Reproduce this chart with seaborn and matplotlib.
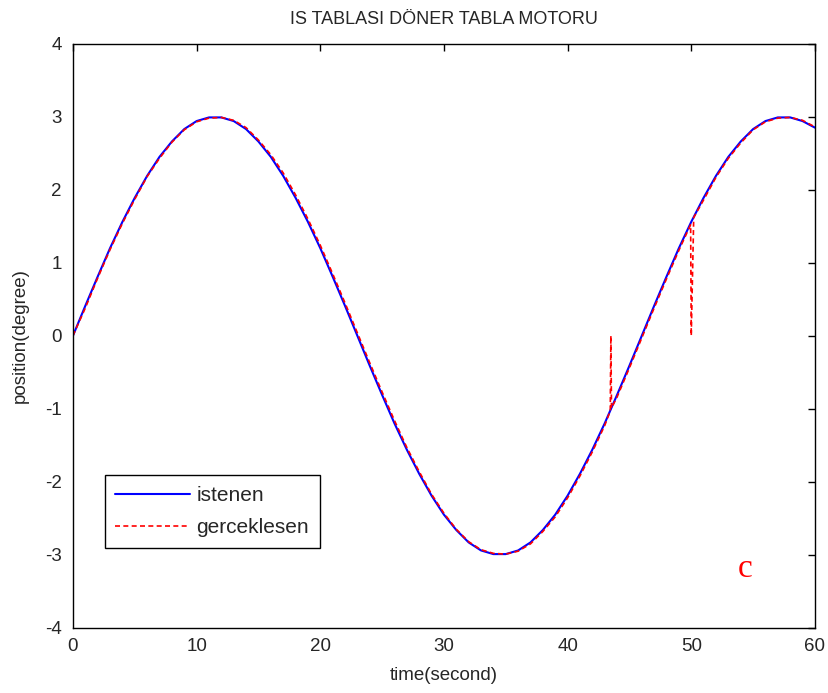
"""IS TABLASI DONER TABLA MOTORU - istenen vs gerceklesen position chart."""
import matplotlib
matplotlib.use("Agg")
import matplotlib.pyplot as plt
import seaborn as sns
import pandas as pd

# desired position (blue), every second
time_ref = list(range(0, 61))
pos_ref = [0.00, 0.41, 0.81, 1.20, 1.56, 1.89, 2.19, 2.45, 2.66, 2.83,
           2.94, 2.99, 2.99, 2.94, 2.83, 2.66, 2.45, 2.19, 1.89, 1.56,
           1.20, 0.81, 0.41, 0.00, -0.41, -0.81, -1.20, -1.56, -1.89, -2.19,
           -2.45, -2.66, -2.83, -2.94, -2.99, -2.99, -2.94, -2.83, -2.66, -2.45,
           -2.19, -1.89, -1.56, -1.20, -0.81, -0.41, 0.00, 0.41, 0.81, 1.20,
           1.56, 1.89, 2.19, 2.45, 2.66, 2.83, 2.94, 2.99, 2.99, 2.94, 2.85]

# measured position (red dashed), with the two glitches near 43.5 s and 50 s
time_act = [0, 1, 2, 3, 4, 5, 6, 7, 8, 9, 10, 11, 12, 13, 14, 15, 16, 17, 18, 19,
            20, 21, 22, 23, 24, 25, 26, 27, 28, 29, 30, 31, 32, 33, 34, 35, 36, 37,
            38, 39, 40, 41, 42, 43, 43.45, 43.5, 43.55, 44, 45, 46, 47, 48, 49,
            49.95, 50.0, 50.2, 51, 52, 53, 54, 55, 56, 57, 58, 59, 60]
pos_act = [0.00, 0.38, 0.79, 1.18, 1.54, 1.87, 2.18, 2.43, 2.65, 2.82,
           2.93, 2.98, 2.99, 2.95, 2.85, 2.68, 2.48, 2.23, 1.93, 1.60,
           1.24, 0.85, 0.45, 0.04, -0.37, -0.77, -1.16, -1.53, -1.86, -2.17,
           -2.43, -2.65, -2.82, -2.93, -2.98, -2.99, -2.95, -2.85, -2.68, -2.48,
           -2.22, -1.92, -1.59, -1.23, -1.03, 0.00, -0.99, -0.84, -0.44, -0.03,
           0.38, 0.78, 1.17, 1.52, 0.00, 1.62, 1.86, 2.17, 2.43, 2.64, 2.82,
           2.93, 2.98, 2.99, 2.95, 2.86]

series_labels = ["istenen", "gerceklesen"]

df_ref = pd.DataFrame({"time": time_ref, "pos": pos_ref})
df_act = pd.DataFrame({"time": time_act, "pos": pos_act})

sns.set_style("white")
plt.rcParams["font.family"] = ["Liberation Sans", "DejaVu Sans"]
plt.rcParams["axes.unicode_minus"] = False
plt.rcParams["xtick.direction"] = "in"
plt.rcParams["ytick.direction"] = "in"

fig = plt.figure(figsize=(8.29, 6.93), dpi=100)
ax = fig.add_axes([0.088, 0.094, 0.895, 0.843])

sns.lineplot(data=df_ref, x="time", y="pos", ax=ax, color="#0000ff",
             linewidth=1.5, estimator=None, sort=False, label=series_labels[0])
sns.lineplot(data=df_act, x="time", y="pos", ax=ax, color="#ff0000",
             linewidth=1.2, linestyle=(0, (3, 2)), estimator=None, sort=False,
             label=series_labels[1])

ax.set_xlim(0, 60)
ax.set_ylim(-4, 4)
ax.set_xticks(range(0, 61, 10))
ax.set_yticks(range(-4, 5))
ax.tick_params(axis="x", labelsize=13.5, length=5, width=1, color="black",
               top=True, pad=7)
ax.tick_params(axis="y", labelsize=13.5, length=5, width=1, color="black",
               right=True, pad=8)
for side in ax.spines.values():
    side.set_color("black")
    side.set_linewidth(1)

ax.set_title("IS TABLASI DÖNER TABLA MOTORU", fontsize=13, pad=14)
ax.set_xlabel("time(second)", fontsize=13.5, labelpad=9)
ax.set_ylabel("position(degree)", fontsize=13.5, labelpad=12)

ax.text(53.8, -3.3, "c", color="#ff0000", fontsize=24,
        family=["Liberation Serif", "DejaVu Serif"])

ax.legend(loc="lower left", bbox_to_anchor=(0.043, 0.137), fontsize=15,
          frameon=True, fancybox=False, edgecolor="black", framealpha=1,
          handlelength=3.6, borderpad=0.5, labelspacing=0.65,
          borderaxespad=0, handletextpad=0.3)

fig.savefig("out.png", dpi=100)
